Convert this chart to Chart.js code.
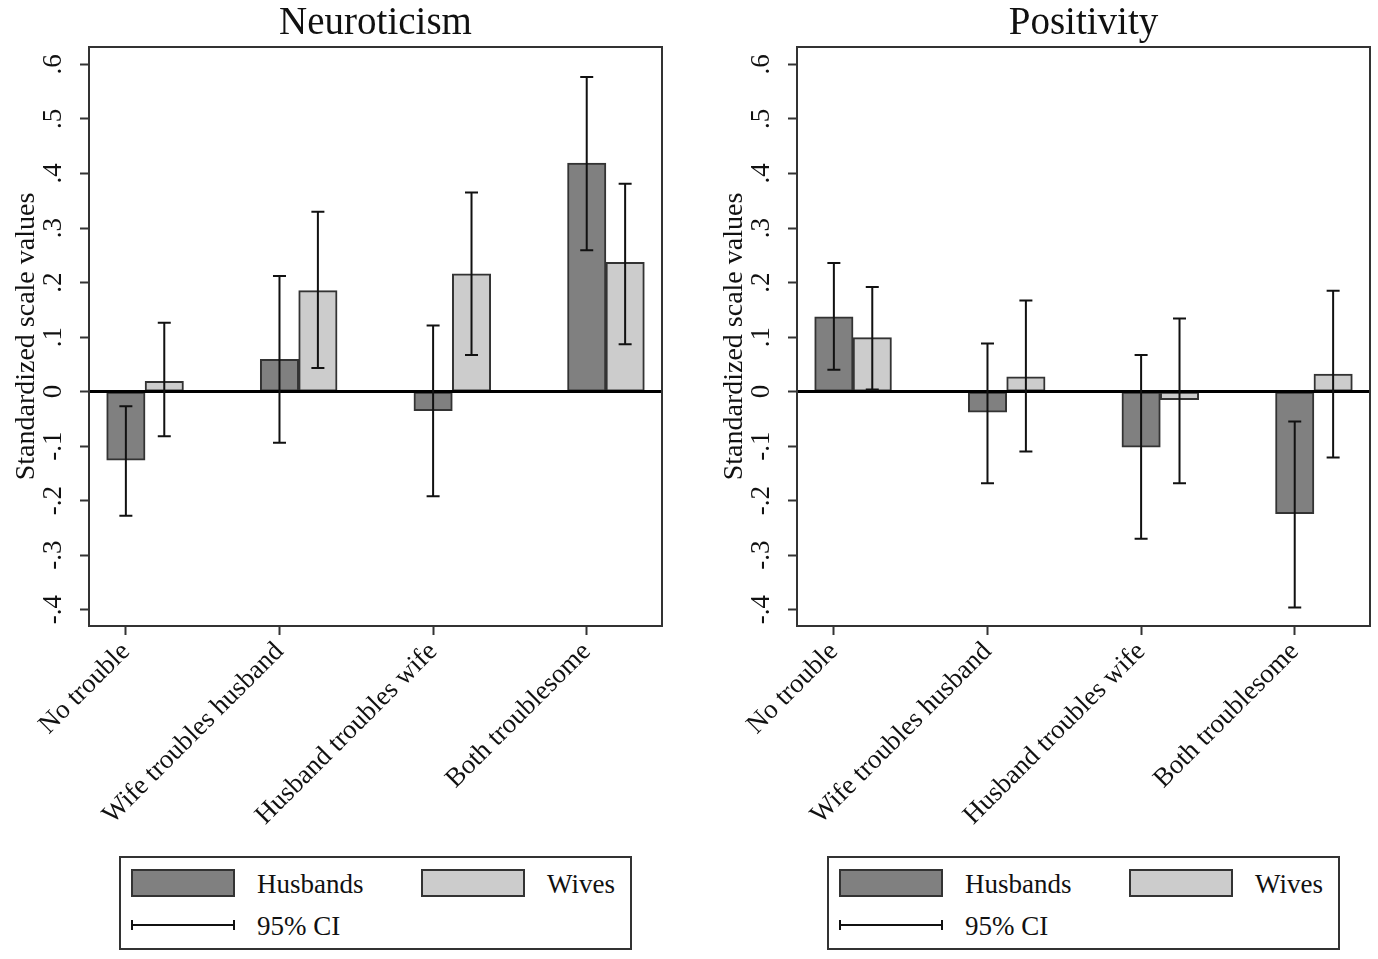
<!DOCTYPE html>
<html lang="en">
<head>
<meta charset="UTF-8">
<title>Neuroticism and Positivity by couple type</title>
<style>
    body {
        margin: 0;
        background: #fff;
        font-family: "Liberation Serif", "Times New Roman", serif;
        color: #111;
    }
    .panel {
        position: absolute;
        top: 0;
        width: 670px;
        height: 959px;
    }
    .panel canvas {
        position: absolute;
        left: 0;
        top: 0;
    }
    .legend {
        position: absolute;
        left: 119px;
        top: 856px;
        width: 509px;
        height: 90px;
        border: 2px solid #333;
        font-size: 27px;
    }
    .legend .sw {
        position: absolute;
        top: 11px;
        width: 100px;
        height: 24px;
        border: 2px solid #333;
    }
    .legend .lbl {
        position: absolute;
        height: 30px;
        line-height: 30px;
        white-space: nowrap;
    }
    .legend .ci {
        position: absolute;
        left: 10px;
        top: 62px;
        width: 100px;
        height: 10px;
        border-left: 2px solid #111;
        border-right: 2px solid #111;
    }
    .legend .ci::after {
        content: "";
        position: absolute;
        left: 0;
        right: 0;
        top: 4px;
        border-top: 2px solid #111;
    }
</style>
<script src="https://cdn.jsdelivr.net/npm/chart.js"></script>
</head>
<body>
<div class="panel" style="left:0">
    <canvas id="neuro" width="670" height="850"></canvas>
    <div class="legend">
        <div class="sw" style="left:10px;background:#808080"></div>
        <div class="lbl" style="left:136px;top:11px">Husbands</div>
        <div class="sw" style="left:300px;background:#cccccc"></div>
        <div class="lbl" style="left:426px;top:11px">Wives</div>
        <div class="ci"></div>
        <div class="lbl" style="left:136px;top:53px">95% CI</div>
    </div>
</div>
<div class="panel" style="left:708px">
    <canvas id="posit" width="670" height="850"></canvas>
    <div class="legend">
        <div class="sw" style="left:10px;background:#808080"></div>
        <div class="lbl" style="left:136px;top:11px">Husbands</div>
        <div class="sw" style="left:300px;background:#cccccc"></div>
        <div class="lbl" style="left:426px;top:11px">Wives</div>
        <div class="ci"></div>
        <div class="lbl" style="left:136px;top:53px">95% CI</div>
    </div>
</div>
<script>
    const CATEGORIES = ['No trouble', 'Wife troubles husband', 'Husband troubles wife', 'Both troublesome'];
    const Y_TICKS = [-0.4, -0.3, -0.2, -0.1, 0, 0.1, 0.2, 0.3, 0.4, 0.5, 0.6];
    const Y_LABELS = ['-.4', '-.3', '-.2', '-.1', '0', '.1', '.2', '.3', '.4', '.5', '.6'];

    // Neuroticism
    const neuroHus   = [-0.126, 0.059, -0.035, 0.419];
    const neuroHusLo = [-0.228, -0.094, -0.192, 0.259];
    const neuroHusHi = [-0.027, 0.212, 0.121, 0.577];
    const neuroWiv   = [0.019, 0.185, 0.216, 0.237];
    const neuroWivLo = [-0.082, 0.043, 0.067, 0.087];
    const neuroWivHi = [0.126, 0.330, 0.365, 0.381];

    // Positivity
    const posHus   = [0.137, -0.038, -0.102, -0.224];
    const posHusLo = [0.040, -0.168, -0.270, -0.396];
    const posHusHi = [0.236, 0.088, 0.067, -0.055];
    const posWiv   = [0.099, 0.027, -0.015, 0.032];
    const posWivLo = [0.004, -0.110, -0.168, -0.121];
    const posWivHi = [0.192, 0.167, 0.134, 0.185];

    const WIFE_SHIFT = 0.25;
    const SERIF = '"Liberation Serif", "Times New Roman", serif';

    const extras = {
        id: 'extras',
        afterDatasetsDraw(chart, args, opts) {
            const {ctx, chartArea: a, scales: {x, y}} = chart;
            ctx.save();
            // zero line
            const y0 = y.getPixelForValue(0);
            ctx.strokeStyle = '#000';
            ctx.lineWidth = 3;
            ctx.beginPath();
            ctx.moveTo(a.left, y0);
            ctx.lineTo(a.right, y0);
            ctx.stroke();
            // confidence intervals
            ctx.strokeStyle = '#111';
            ctx.lineWidth = 2;
            opts.ci.forEach((ci, di) => {
                const pts = chart.data.datasets[di].data;
                ci.lo.forEach((lo, i) => {
                    const px = x.getPixelForValue(pts[i].x);
                    const pLo = y.getPixelForValue(lo);
                    const pHi = y.getPixelForValue(ci.hi[i]);
                    ctx.beginPath();
                    ctx.moveTo(px, pLo); ctx.lineTo(px, pHi);
                    ctx.moveTo(px - 6.5, pLo); ctx.lineTo(px + 6.5, pLo);
                    ctx.moveTo(px - 6.5, pHi); ctx.lineTo(px + 6.5, pHi);
                    ctx.stroke();
                });
            });
            // frame
            ctx.strokeStyle = '#333';
            ctx.lineWidth = 2;
            ctx.strokeRect(a.left, a.top, a.right - a.left, a.bottom - a.top);
            ctx.restore();
        }
    };

    function makeChart(id, title, hus, husLo, husHi, wiv, wivLo, wivHi) {
        const barStyle = {
            borderColor: '#333',
            borderWidth: 2,
            borderSkipped: false,
            grouped: false,
            barPercentage: 1,
            categoryPercentage: 1
        };
        new Chart(document.getElementById(id), {
            type: 'bar',
            data: {
                datasets: [
                    Object.assign({
                        label: 'Husbands',
                        data: hus.map((v, i) => ({x: i + 1, y: v})),
                        backgroundColor: '#808080'
                    }, barStyle),
                    Object.assign({
                        label: 'Wives',
                        data: wiv.map((v, i) => ({x: i + 1 + WIFE_SHIFT, y: v})),
                        backgroundColor: '#cccccc'
                    }, barStyle)
                ]
            },
            options: {
                responsive: false,
                animation: false,
                layout: {padding: {left: 0, right: 8, top: 0, bottom: 0}},
                plugins: {
                    legend: {display: false},
                    tooltip: {enabled: false},
                    title: {
                        display: true,
                        fullSize: false,
                        text: title,
                        color: '#111',
                        font: {family: SERIF, size: 39, weight: 'normal'},
                        padding: {top: 0, bottom: 0.2}
                    },
                    extras: {ci: [{lo: husLo, hi: husHi}, {lo: wivLo, hi: wivHi}]}
                },
                scales: {
                    x: {
                        type: 'linear',
                        min: 0.76,
                        max: 4.49,
                        offset: false,
                        afterBuildTicks: s => { s.ticks = CATEGORIES.map((c, i) => ({value: i + 1})); },
                        afterFit: s => { s.height = 224; },
                        ticks: {
                            autoSkip: false,
                            minRotation: 45,
                            maxRotation: 45,
                            padding: 1,
                            color: '#111',
                            font: {family: SERIF, size: 27},
                            callback: (v, i) => CATEGORIES[i]
                        },
                        grid: {drawOnChartArea: false, offset: false, tickLength: 9, tickWidth: 2, tickColor: '#333'},
                        border: {display: true, color: '#333', width: 2}
                    },
                    y: {
                        min: -0.43,
                        max: 0.632,
                        afterBuildTicks: s => { s.ticks = Y_TICKS.map(v => ({value: v})); },
                        afterFit: s => { s.width = 89; },
                        ticks: {
                            minRotation: 90,
                            maxRotation: 90,
                            crossAlign: 'center',
                            padding: 11,
                            color: '#111',
                            font: {family: SERIF, size: 27},
                            callback: (v, i) => Y_LABELS[i]
                        },
                        grid: {drawOnChartArea: false, tickLength: 9, tickWidth: 2, tickColor: '#333'},
                        border: {display: true, color: '#333', width: 2},
                        title: {
                            display: true,
                            text: 'Standardized scale values',
                            color: '#111',
                            font: {family: SERIF, size: 28},
                            padding: {top: 10, bottom: 0}
                        }
                    }
                }
            },
            plugins: [extras]
        });
    }

    makeChart('neuro', 'Neuroticism', neuroHus, neuroHusLo, neuroHusHi, neuroWiv, neuroWivLo, neuroWivHi);
    makeChart('posit', 'Positivity', posHus, posHusLo, posHusHi, posWiv, posWivLo, posWivHi);
</script>
</body>
</html>
